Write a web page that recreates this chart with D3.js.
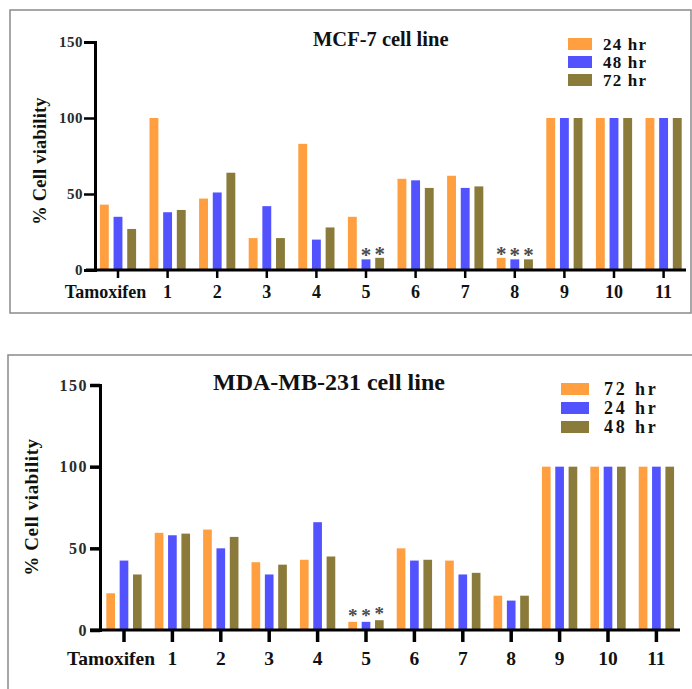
<!DOCTYPE html>
<html>
<head>
<meta charset="utf-8">
<script src="https://cdnjs.cloudflare.com/ajax/libs/d3/7.8.5/d3.min.js"></script>
<style>
body { margin: 0; background: #fff; }
svg { display: block; }
svg text { font-family: "Liberation Serif", "Times New Roman", Tinos, "DejaVu Serif", serif !important; font-weight: bold; }
</style>
</head>
<body>
<div id="chart"></div>
<script>
const groups = ["Tamoxifen", "1", "2", "3", "4", "5", "6", "7", "8", "9", "10", "11"];
const yTicks = [0, 50, 100, 150];
const colors = ["#FF9F40", "#5252FF", "#8B7B3A"];

// MCF-7
const mcfSeries = ["24 hr", "48 hr", "72 hr"];
const mcf24 = [43, 100, 47, 21, 83, 35, 60, 62, 8, 100, 100, 100];
const mcf48 = [35, 38, 51, 42, 20, 7, 59, 54, 7, 100, 100, 100];
const mcf72 = [27, 39.5, 64, 21, 28, 8, 54, 55, 7, 100, 100, 100];
const mcfStars = [[], [], [], [], [], [1, 2], [], [], [0, 1, 2], [], [], []];

// MDA-MB-231
const mdaSeries = ["72 hr", "24 hr", "48 hr"];
const mda72 = [22.5, 59.5, 61.5, 41.5, 43, 5, 50, 42.5, 21, 100, 100, 100];
const mda24 = [42.5, 58, 50, 34, 66, 5, 42.5, 34, 18, 100, 100, 100];
const mda48 = [34, 59, 57, 40, 45, 6, 43, 35, 21, 100, 100, 100];
const mdaStars = [[], [], [], [], [], [0, 1, 2], [], [], [], [], [], []];

const w = 692, h = 689;
const svg = d3.select("#chart").append("svg").attr("width", w).attr("height", h);

// panel frames
svg.append("rect").attr("x", 10).attr("y", 10).attr("width", 681).attr("height", 303)
  .attr("fill", "none").attr("stroke", "#8a8a8a").attr("stroke-width", 1.5);
svg.append("rect").attr("x", 8).attr("y", 355).attr("width", 700).attr("height", 400)
  .attr("fill", "none").attr("stroke", "#8a8a8a").attr("stroke-width", 1.5);

function drawPanel(p) {
  const g = svg.append("g");
  const x0 = d3.scaleBand().domain(groups).range(p.xRange).paddingInner(0.27).paddingOuter(0.135);
  const x1 = d3.scaleBand().domain([0, 1, 2]).range([0, x0.bandwidth()]).paddingInner(0.35);
  const y = d3.scaleLinear().domain([0, 150]).range([p.y0, p.y150]);

  const rows = groups.map((gname, i) => ({ name: gname, vals: p.values.map(s => s[i]), stars: p.stars[i] }));

  const grp = g.selectAll(".grp").data(rows).enter().append("g")
    .attr("transform", d => "translate(" + x0(d.name) + ",0)");
  grp.selectAll("rect").data(d => d.vals).enter().append("rect")
    .attr("x", (d, i) => x1(i))
    .attr("y", d => y(d))
    .attr("width", x1.bandwidth())
    .attr("height", d => p.y0 - y(d))
    .attr("fill", (d, i) => colors[i]);
  grp.selectAll("text.star").data(d => d.stars.map(k => ({ k: k, v: d.vals[k] }))).enter().append("text")
    .attr("class", "star")
    .attr("x", d => x1(d.k) + x1.bandwidth() / 2)
    .attr("y", d => y(d.v) + p.starDy)
    .attr("text-anchor", "middle")
    .attr("font-size", p.starSize)
    .attr("fill", "#4a4a4a")
    .text("*");

  // axes
  const xAxis = g.append("g").attr("transform", "translate(0," + p.y0 + ")")
    .call(d3.axisBottom(x0).tickSizeOuter(0).tickSize(p.xTick).tickPadding(p.xPad));
  xAxis.select(".domain").attr("stroke-width", p.axisW).attr("d", "M" + p.xAxisStart + ",0H" + p.xAxisEnd);
  xAxis.selectAll(".tick line").attr("stroke-width", p.tickW);
  xAxis.selectAll(".tick text").attr("font-size", p.xFont).attr("fill", "#111")
    .attr("dx", d => d === "Tamoxifen" ? p.tamDx : 0);

  const yAxis = g.append("g").attr("transform", "translate(" + p.yAxisX + ",0)")
    .call(d3.axisLeft(y).tickValues(yTicks).tickSizeOuter(0).tickSize(p.yTick).tickPadding(p.yPad));
  yAxis.select(".domain").attr("stroke-width", p.axisW);
  yAxis.selectAll(".tick line").attr("stroke-width", p.tickW);
  yAxis.selectAll(".tick text").attr("font-size", p.yFont).attr("letter-spacing", p.yFontSpacing).attr("fill", "#2a2a2a");

  // y label
  g.append("text")
    .attr("transform", "translate(" + p.yLabelX + "," + p.yLabelY + ") rotate(-90)")
    .attr("text-anchor", "middle")
    .attr("font-size", p.yLabelSize)
    .attr("letter-spacing", p.yLabelSpacing)
    .attr("fill", "#111")
    .text("% Cell viability");

  // title
  g.append("text").attr("x", p.titleX).attr("y", p.titleY)
    .attr("font-size", p.titleSize).attr("fill", "#111").text(p.title);

  // legend
  const leg = g.selectAll(".leg").data(p.series).enter().append("g")
    .attr("transform", (d, i) => "translate(" + p.legX + "," + (p.legY + i * p.legStep) + ")");
  leg.append("rect").attr("width", p.legW).attr("height", p.legH).attr("fill", (d, i) => colors[i]);
  leg.append("text").attr("x", p.legTextX).attr("y", p.legH)
    .attr("font-size", p.legFont).attr("letter-spacing", p.legSpacing).attr("fill", "#111").text(d => d);
}

drawPanel({
  values: [mcf24, mcf48, mcf72], stars: mcfStars, series: mcfSeries,
  xRange: [93.2, 688.4], y0: 270, y150: 42, yAxisX: 95, xAxisStart: 86, xAxisEnd: 686,
  axisW: 3, tickW: 2.5, xTick: 8, yTick: 11, yPad: 1, xPad: 7, xFont: 18, yFont: 15, yFontSpacing: 0.5,
  tamDx: -12.5, starDy: 3, starSize: 21,
  yLabelX: 46, yLabelY: 161, yLabelSize: 18.5, yLabelSpacing: 0.2,
  title: "MCF-7 cell line", titleX: 313, titleY: 46, titleSize: 20.5,
  legX: 568, legY: 38, legStep: 18, legW: 24, legH: 12, legTextX: 35, legFont: 17, legSpacing: 1.2
});

drawPanel({
  values: [mda72, mda24, mda48], stars: mdaStars, series: mdaSeries,
  xRange: [99.8, 680.6], y0: 630, y150: 385, yAxisX: 100, xAxisStart: 90, xAxisEnd: 680,
  axisW: 3, tickW: 3.5, xTick: 12, yTick: 10, yPad: 2, xPad: 9, xFont: 19.5, yFont: 16, yFontSpacing: 1.5,
  tamDx: -13, starDy: 0, starSize: 19,
  yLabelX: 38, yLabelY: 507, yLabelSize: 19, yLabelSpacing: 0.6,
  title: "MDA-MB-231 cell line", titleX: 213, titleY: 390, titleSize: 24,
  legX: 561, legY: 383, legStep: 19, legW: 28, legH: 12, legTextX: 43, legFont: 18, legSpacing: 2.8
});
</script>
</body>
</html>
